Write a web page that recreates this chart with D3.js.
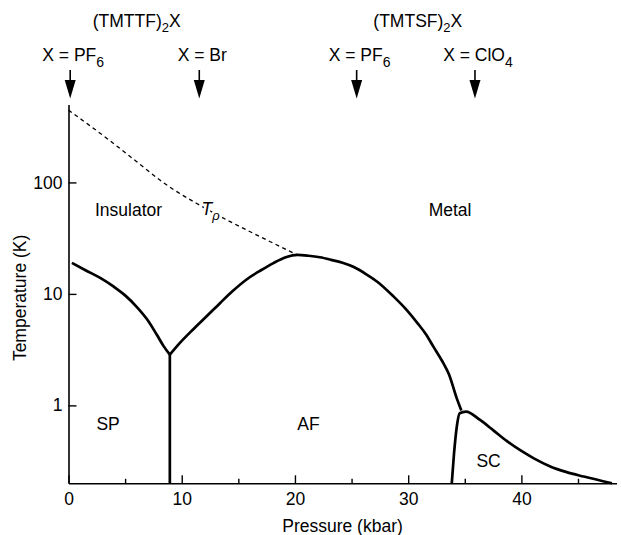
<!DOCTYPE html>
<html>
<head>
<meta charset="utf-8">
<script src="https://cdn.jsdelivr.net/npm/d3@7"></script>
<style>
  body { margin: 0; background: #fff; }
  svg { display: block; font-family: "Liberation Sans", Arial, Helvetica, sans-serif; }
</style>
</head>
<body>
<svg width="621" height="535"></svg>
<script>
// phase boundaries, [pressure kbar, temperature K]
const spBoundary = [[0.3, 19], [1.5, 16.3], [2.8, 13.9], [4, 11.6], [5, 9.7], [6, 7.7],
  [7, 5.8], [7.8, 4.3], [8.4, 3.4], [8.95, 2.85]];
const spVertical = [[8.95, 2.85], [8.95, 0.2]];
const afBoundary = [[8.95, 2.85], [9.8, 3.6], [11, 4.8], [12.2, 6.3], [13.4, 8.3], [14.5, 10.6],
  [15.7, 13.4], [17, 16.3], [18.1, 18.9], [19.2, 21.3], [20.2, 22.4], [21.2, 22], [22.2, 21.3],
  [23.2, 20.2], [24.2, 19], [25.2, 17.4], [26.3, 15], [27.3, 12.8], [28.7, 9.5], [29.8, 7.3],
  [30.8, 5.5], [31.6, 4.3], [32.2, 3.4], [33, 2.5], [33.6, 1.9], [34.3, 1.15], [34.7, 0.9]];
const scBoundary = [[33.85, 0.2], [34.05, 0.37], [34.3, 0.65], [34.55, 0.85], [35.1, 0.88],
  [36.35, 0.74], [37.5, 0.6], [38.7, 0.48], [40, 0.39], [41.1, 0.335], [42.5, 0.285],
  [44, 0.252], [45.5, 0.23], [48, 0.2]];
const tRho = [[0, 445], [3.7, 235], [6, 154], [8.1, 104.5], [9.3, 86], [11.3, 65], [14, 46],
  [16.9, 32.7], [20.2, 22.4]];

// compounds marked with arrows
const arrowPressures = [0.15, 11.55, 25.45, 35.9];
const arrowBase = ['X = PF', 'X = Br', 'X = PF', 'X = ClO'];
const arrowSub = ['6', '', '6', '4'];
const familyNames = ['(TMTTF)', '(TMTSF)'];

// region names with their place in data units
const regionNames = ['Insulator', 'Metal', 'SP', 'AF', 'SC'];
const regionP = [5.3, 33.7, 3.5, 21.2, 37.1];
const regionT = [50, 50, 0.6, 0.6, 0.28];

const xTicks = [0, 10, 20, 30, 40];
const xMinor = [5, 15, 25, 35, 45];
const yTicks = [1, 10, 100];

const fontSize = 17.5;
const svg = d3.select('svg');
const width = 621, height = 535;
const margin = { top: 104.5, right: 4.5, bottom: 51.7, left: 68.5 };
const plotWidth = width - margin.left - margin.right;
const plotHeight = height - margin.top - margin.bottom;

const g = svg.append('g').attr('transform', `translate(${margin.left},${margin.top})`);

const x = d3.scaleLinear().domain([0, 48.4]).range([0, plotWidth]);
const y = d3.scaleLog().domain([0.2, 500]).range([plotHeight, 0]);

// axes
const xAxis = g.append('g')
  .attr('transform', `translate(0,${plotHeight})`)
  .call(d3.axisBottom(x).tickValues(xTicks).tickSize(-8).tickSizeOuter(0).tickPadding(9));
g.append('g')
  .attr('transform', `translate(0,${plotHeight})`)
  .call(d3.axisBottom(x).tickValues(xMinor).tickSize(-4.5).tickFormat(''))
  .call(a => a.select('.domain').remove());
const yAxis = g.append('g')
  .call(d3.axisLeft(y).tickValues(yTicks).tickFormat(d3.format('d')).tickSize(-8).tickSizeOuter(0).tickPadding(6));

g.selectAll('.tick line').attr('stroke', '#000').attr('stroke-width', 1.4);
[xAxis, yAxis].forEach(a => {
  a.attr('font-family', null).attr('font-size', fontSize);
  a.select('.domain').attr('stroke', '#000').attr('stroke-width', 1.6);
  a.selectAll('.tick text').attr('fill', '#000');
});

svg.append('text')
  .attr('x', margin.left + x(24.2))
  .attr('y', 532)
  .attr('text-anchor', 'middle')
  .attr('font-size', fontSize)
  .text('Pressure (kbar)');

svg.append('text')
  .attr('transform', `translate(25.5,${margin.top + plotHeight / 2 + 4}) rotate(-90)`)
  .attr('text-anchor', 'middle')
  .attr('font-size', fontSize)
  .text('Temperature (K)');

// curves
const line = d3.line()
  .x(d => x(d[0]))
  .y(d => y(d[1]))
  .curve(d3.curveMonotoneX);

g.append('path')
  .datum(tRho)
  .attr('d', line)
  .attr('fill', 'none')
  .attr('stroke', '#000')
  .attr('stroke-width', 1.3)
  .attr('stroke-dasharray', '4,3.5');

[spBoundary, afBoundary, scBoundary].forEach(d => {
  g.append('path')
    .datum(d)
    .attr('d', line)
    .attr('fill', 'none')
    .attr('stroke', '#000')
    .attr('stroke-width', 2.7)
    .attr('stroke-linejoin', 'round');
});

g.append('path')
  .datum(spVertical)
  .attr('d', d3.line().x(d => x(d[0])).y(d => y(d[1])))
  .attr('fill', 'none')
  .attr('stroke', '#000')
  .attr('stroke-width', 2.7);

// T_rho label, white halo hides the dashes under it
const tLabel = g.append('text')
  .attr('x', x(11.75))
  .attr('y', y(51))
  .attr('font-size', fontSize)
  .attr('font-style', 'italic')
  .attr('stroke', '#fff')
  .attr('stroke-width', 5)
  .attr('paint-order', 'stroke');
tLabel.append('tspan').text('T');
tLabel.append('tspan').attr('font-size', 13).attr('dy', 5).text('ρ');

// region names
g.selectAll('text.region')
  .data(regionNames)
  .join('text')
  .attr('class', 'region')
  .attr('x', (d, i) => x(regionP[i]))
  .attr('y', (d, i) => y(regionT[i]))
  .attr('text-anchor', 'middle')
  .attr('font-size', fontSize)
  .text(d => d);

// arrows and compound labels
const arrowX = arrowPressures.map(p => margin.left + x(p));
arrowX.forEach((ax, i) => {
  svg.append('line')
    .attr('x1', ax).attr('x2', ax)
    .attr('y1', 70).attr('y2', 82)
    .attr('stroke', '#000')
    .attr('stroke-width', 1.6);
  svg.append('path')
    .attr('d', `M${ax - 5.5},80L${ax + 5.5},80L${ax},98.5Z`)
    .attr('fill', '#000');
  const t = svg.append('text')
    .attr('x', ax + 3)
    .attr('y', 61)
    .attr('text-anchor', 'middle')
    .attr('font-size', fontSize);
  t.append('tspan').text(arrowBase[i]);
  if (arrowSub[i]) t.append('tspan').attr('font-size', 14).attr('dy', 6).text(arrowSub[i]);
});

familyNames.forEach((name, i) => {
  const cx = (arrowX[2 * i] + arrowX[2 * i + 1]) / 2 + 2;
  const t = svg.append('text')
    .attr('x', cx)
    .attr('y', 27)
    .attr('text-anchor', 'middle')
    .attr('font-size', fontSize);
  t.append('tspan').text(name);
  t.append('tspan').attr('font-size', 13).attr('dy', 5).text('2');
  t.append('tspan').attr('dy', -5).text('X');
});
</script>
</body>
</html>
